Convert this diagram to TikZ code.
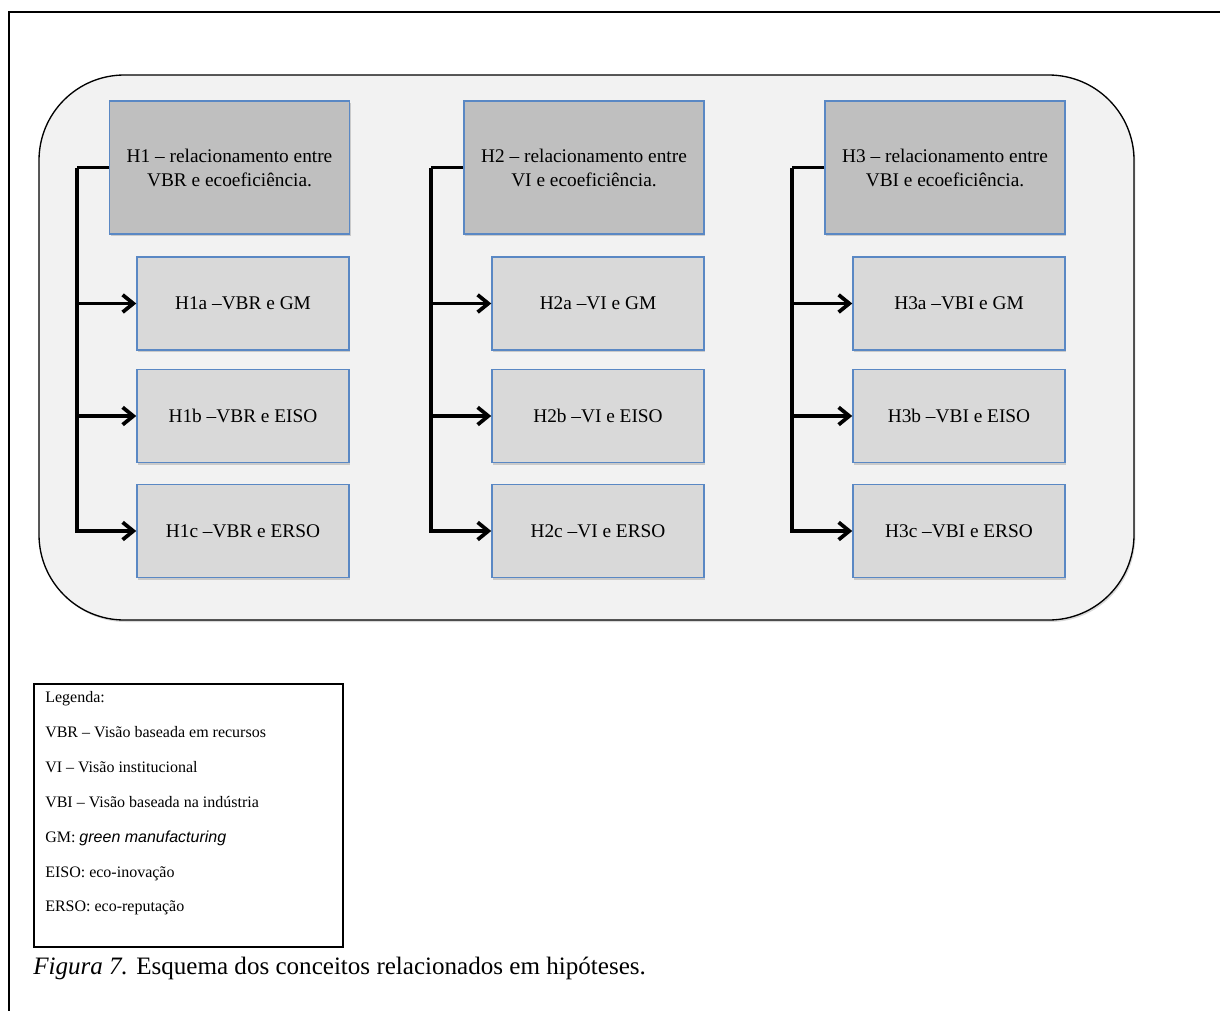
\documentclass[tikz,border=0pt]{standalone}
\usepackage{fontspec}
\setmainfont{Liberation Serif}
\newfontfamily\arialit{Liberation Sans}
\usepackage{tikz}
\usetikzlibrary{arrows.meta,shadows,calc}

\definecolor{hdrfill}{HTML}{BFBFBF}
\definecolor{subfill}{HTML}{D9D9D9}
\definecolor{boxline}{HTML}{5A88C4}
\definecolor{panelfill}{HTML}{F2F2F2}

\tikzset{
  hyp/.style={draw=boxline,line width=1.1pt,fill=hdrfill,align=center,
    minimum width=180pt,minimum height=100pt,inner sep=0pt,
    font=\fontsize{14.5}{18}\selectfont,
    drop shadow={shadow xshift=1pt,shadow yshift=-1.5pt,opacity=0.35}},
  subhyp/.style={hyp,fill=subfill,minimum width=159pt,minimum height=70pt},
  trunk/.style={line width=2.8pt,line join=miter},
  arr/.style={line width=2.8pt,-{Straight Barb[length=8pt,width=13pt]}}
}

\begin{document}
\begin{tikzpicture}[x=0.75pt,y=-0.75pt]
        \useasboundingbox (0,0) rectangle (1220,1010);
        % frame of the page
        \draw[line width=1.5pt] (9,1012) -- (9,12) -- (1222,12);
        % panel
        \draw[fill=panelfill,line width=1pt,rounded corners=64pt,
          drop shadow={shadow xshift=1pt,shadow yshift=-1.5pt,opacity=0.3}]
          (39,75) rectangle (1134,620);
        % H1
        \node[hyp] (h1) at (229.5,167.5) {H1 -- relacionamento entre\\VBR e ecoeficiência.};
        \node[subhyp] (h1a) at (243,303.5) {H1a --VBR e GM};
        \node[subhyp] (h1b) at (243,416) {H1b --VBR e EISO};
        \node[subhyp] (h1c) at (243,531) {H1c --VBR e ERSO};
        % H2
        \node[hyp] (h2) at (584,167.5) {H2 -- relacionamento entre\\VI e ecoeficiência.};
        \node[subhyp] (h2a) at (598,303.5) {H2a --VI e GM};
        \node[subhyp] (h2b) at (598,416) {H2b --VI e EISO};
        \node[subhyp] (h2c) at (598,531) {H2c --VI e ERSO};
        % H3
        \node[hyp] (h3) at (945,167.5) {H3 -- relacionamento entre\\VBI e ecoeficiência.};
        \node[subhyp] (h3a) at (959,303.5) {H3a --VBI e GM};
        \node[subhyp] (h3b) at (959,416) {H3b --VBI e EISO};
        \node[subhyp] (h3c) at (959,531) {H3c --VBI e ERSO};
        % connectors
        \draw[trunk] (h1.west) -- ++(-32,0) coordinate (t1);
        \draw[arr] (t1) |- (h1c.west);
        \draw[arr] (t1 |- h1a.west) -- (h1a.west);
        \draw[arr] (t1 |- h1b.west) -- (h1b.west);
        \draw[trunk] (h2.west) -- ++(-32,0) coordinate (t2);
        \draw[arr] (t2) |- (h2c.west);
        \draw[arr] (t2 |- h2a.west) -- (h2a.west);
        \draw[arr] (t2 |- h2b.west) -- (h2b.west);
        \draw[trunk] (h3.west) -- ++(-32,0) coordinate (t3);
        \draw[arr] (t3) |- (h3c.west);
        \draw[arr] (t3 |- h3a.west) -- (h3a.west);
        \draw[arr] (t3 |- h3b.west) -- (h3b.west);
        % legend
        \draw[line width=2.2pt] (34,684) rectangle (343,947);
        \node[anchor=north west,align=left,inner sep=0pt,
          font=\fontsize{12}{26.2}\selectfont] (legenda) at (45,691)
          {Legenda:\\
           VBR -- Visão baseada em recursos\\
           VI -- Visão institucional\\
           VBI -- Visão baseada na indústria\\
           GM: {\arialit\itshape green manufacturing}\\
           EISO: eco-inovação\\
           ERSO: eco-reputação};
        % caption
        \node[anchor=west,inner sep=0pt,font=\fontsize{18.8}{22}\selectfont] (legenda-fig) at (33,968)
          {\textit{Figura 7.} Esquema dos conceitos relacionados em hipóteses.};
\end{tikzpicture}
\end{document}
